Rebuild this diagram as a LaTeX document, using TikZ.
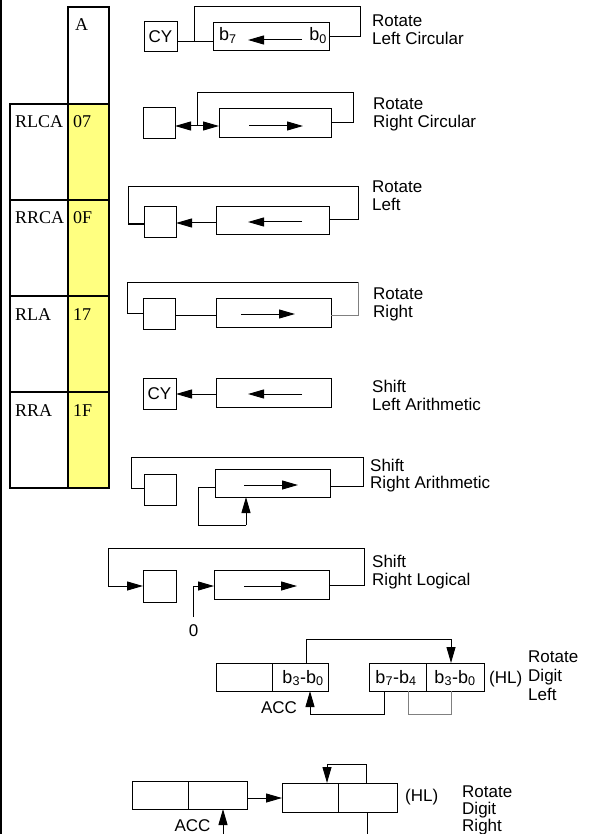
\documentclass[tikz,border=0pt]{standalone}
\usepackage{fontspec}
\setmainfont{Liberation Serif}
\setsansfont{Liberation Sans}
\usetikzlibrary{arrows.meta}
\definecolor{yel}{RGB}{255,255,128}
\begin{document}
\begin{tikzpicture}[x=1pt,y=-1pt,
  box/.style={draw, line width=1pt, inner sep=0pt, outer sep=0pt, font=\sffamily\fontsize{17}{18}\selectfont},
  cell/.style={draw, line width=1.4pt, inner sep=0pt, outer sep=0pt},
  lab/.style={font=\sffamily\fontsize{17}{18}\selectfont, inner sep=0pt, anchor=base west},
  blab/.style={font=\sffamily\fontsize{18}{18}\selectfont, inner sep=0pt, anchor=base west},
  tlab/.style={font=\fontsize{18}{20}\selectfont, inner sep=0pt, anchor=base west},
  wire/.style={line width=1pt},
  gwire/.style={line width=1pt, draw=gray},
  arr/.style={line width=1pt, -{Triangle[length=16pt,width=9pt]}}]
\useasboundingbox (0,0) rectangle (590,834);
\fill[white] (0,0) rectangle (590,834);
% left rule
\draw[line width=1.5pt] (0.75,0) -- (0.75,834);
% table
\node[cell, fill=white, minimum width=41pt, minimum height=97pt] (cA) at (88.5,55.5) {};
\node[cell, fill=yel, minimum width=41pt, minimum height=96pt] (y1) at (88.5,152) {};
\node[cell, fill=yel, minimum width=41pt, minimum height=96pt] (y2) at (88.5,248) {};
\node[cell, fill=yel, minimum width=41pt, minimum height=96pt] (y3) at (88.5,344) {};
\node[cell, fill=yel, minimum width=41pt, minimum height=96pt] (y4) at (88.5,440) {};
\node[cell, minimum width=58pt, minimum height=96pt] (l1) at (39,152) {};
\node[cell, minimum width=58pt, minimum height=96pt] (l2) at (39,248) {};
\node[cell, minimum width=58pt, minimum height=96pt] (l3) at (39,344) {};
\node[cell, minimum width=58pt, minimum height=96pt] (l4) at (39,440) {};
\node[tlab] (tA) at (75,31) {A};
\node[tlab] (t1) at (15,128) {RLCA};
\node[tlab] (c1) at (73,128) {07};
\node[tlab] (t2) at (15,224) {RRCA};
\node[tlab] (c2) at (73,224) {0F};
\node[tlab] (t3) at (15,320) {RLA};
\node[tlab] (c3) at (73,320) {17};
\node[tlab] (t4) at (15,416) {RRA};
\node[tlab] (c4) at (73,416) {1F};

% Row 1: Rotate Left Circular
\node[box, minimum width=33pt, minimum height=30pt] (cy1) at (160.5,37) {CY};
\node[box, minimum width=116pt, minimum height=28pt] (w1) at (271,37) {};
\node[blab] (b7) at (219,41) {b\textsubscript{7}};
\node[blab, anchor=base east] (b0) at (327,41) {b\textsubscript{0}};
\draw[wire] (w1.east) -- (360,37) -- (360,7) -- (194,7) -- (194,42);
\draw[wire] (cy1.east |- 0,42) -- (w1.west |- 0,42);
\draw[arr] (302,40) -- (248,40);
\node[lab] (r1a) at (372,27) {Rotate};
\node[lab] (r1b) at (372,45) {Left Circular};

% Row 2: Rotate Right Circular
\node[box, minimum width=32pt, minimum height=31pt] (sb2) at (159,123.5) {};
\node[box, minimum width=112pt, minimum height=29pt] (w2) at (275,123.5) {};
\draw[wire] (w2.east |- 0,123) -- (353,123) -- (353,93) -- (197,93) -- (197,126);
\draw[arr] (197,126) -- (sb2.east |- 0,126);
\draw[arr] (197,126) -- (w2.west |- 0,126);
\draw[arr] (249,126) -- (303,126);
\node[lab] (r2a) at (373,110) {Rotate};
\node[lab] (r2b) at (373,128) {Right Circular};

% Row 3: Rotate Left
\node[box, minimum width=32pt, minimum height=30pt] (sb3) at (160,222) {};
\node[box, minimum width=113pt, minimum height=27pt] (w3) at (272.5,220.5) {};
\draw[wire] (w3.east |- 0,220) -- (358,220) -- (358,187) -- (128,187) -- (128,224) -- (sb3.west |- 0,224);
\draw[arr] (w3.west |- 0,223) -- (sb3.east |- 0,223);
\draw[arr] (302,222) -- (248,222);
\node[lab] (r3a) at (372,193) {Rotate};
\node[lab] (r3b) at (372,211) {Left};

% Row 4: Rotate Right
\node[box, minimum width=32pt, minimum height=31pt] (sb4) at (159,313.5) {};
\node[box, minimum width=115pt, minimum height=29pt] (w4) at (273.5,312.5) {};
\draw[gwire] (w4.east |- 0,315) -- (358,315) -- (358,282);
\draw[wire] (358,282) -- (127,282) -- (127,313) -- (sb4.west |- 0,313);
\draw[wire] (sb4.east |- 0,315) -- (w4.west |- 0,315);
\draw[arr] (241,314) -- (295,314);
\node[lab] (r4a) at (373,299) {Rotate};
\node[lab] (r4b) at (373,317) {Right};

% Row 5: Shift Left Arithmetic
\node[box, minimum width=33pt, minimum height=31pt] (cy5) at (159.5,393.5) {CY};
\node[box, minimum width=115pt, minimum height=29pt] (w5) at (273.5,392.5) {};
\draw[arr] (w5.west |- 0,394) -- (cy5.east |- 0,394);
\draw[arr] (302,394) -- (248,394);
\node[lab] (r5a) at (372,392) {Shift};
\node[lab] (r5b) at (372,410) {Left Arithmetic};

% Row 6: Shift Right Arithmetic
\node[box, minimum width=32pt, minimum height=31pt] (sb6) at (160,489.5) {};
\node[box, minimum width=115pt, minimum height=28pt] (w6) at (272.5,483) {};
\draw[wire] (w6.east |- 0,486) -- (363,486) -- (363,457) -- (131,457) -- (131,488) -- (sb6.west |- 0,488);
\draw[wire] (w6.west |- 0,487) -- (198,487) -- (198,525) -- (246,525);
\draw[arr] (246,525) -- (246,0 |- w6.south);
\draw[arr] (244,485) -- (298,485);
\node[lab] (r6a) at (370,471) {Shift};
\node[lab] (r6b) at (370,488) {Right Arithmetic};

% Row 7: Shift Right Logical
\node[box, minimum width=33pt, minimum height=32pt] (sb7) at (159.5,586) {};
\node[box, minimum width=115pt, minimum height=29pt] (w7) at (271.5,584.5) {};
\draw[wire] (w7.east |- 0,585) -- (364,585) -- (364,548) -- (108,548) -- (108,586);
\draw[arr] (108,586) -- (sb7.west |- 0,586);
\node[lab, anchor=base] (z0) at (193.5,636) {0};
\draw[wire] (193,617) -- (193,586);
\draw[arr] (193,586) -- (w7.west |- 0,586);
\draw[arr] (244,586) -- (297,586);
\node[lab] (r7a) at (372,567) {Shift};
\node[lab] (r7b) at (372,585) {Right Logical};

% Row 8: Rotate Digit Left
\node[box, minimum width=56pt, minimum height=28pt] (acc8a) at (244,677) {};
\node[box, minimum width=56pt, minimum height=28pt] (acc8b) at (300,677) {};
\node[box, minimum width=57.5pt, minimum height=28pt] (hl8a) at (397.75,677) {};
\node[box, minimum width=57.5pt, minimum height=28pt] (hl8b) at (455.25,677) {};
\node[blab, anchor=base] (t8a) at (303,683) {b\textsubscript{3}-b\textsubscript{0}};
\node[blab, anchor=base] (t8b) at (396,683) {b\textsubscript{7}-b\textsubscript{4}};
\node[blab, anchor=base] (t8c) at (455,683) {b\textsubscript{3}-b\textsubscript{0}};
\draw[wire] (306,0 |- acc8b.north) -- (306,639) -- (451,639);
\draw[arr] (451,639) -- (451,0 |- hl8b.north);
\draw[wire] (384,0 |- hl8a.south) -- (384,714) -- (310,714);
\draw[arr] (310,714) -- (310,0 |- acc8b.south);
\draw[gwire] (451,0 |- hl8b.south) -- (451,714) -- (408,714) -- (408,0 |- hl8a.south);
\node[lab, anchor=base] (acc8) at (279,713) {ACC};
\node[lab] (hl8) at (489,683) {(HL)};
\node[lab] (r8a) at (528,662) {Rotate};
\node[lab] (r8b) at (528,681) {Digit};
\node[lab] (r8c) at (528,700) {Left};

% Row 9: Rotate Digit Right
\node[box, minimum width=56pt, minimum height=28pt] (acc9a) at (160,795) {};
\node[box, minimum width=59pt, minimum height=28pt] (acc9b) at (217.5,795) {};
\node[box, minimum width=56pt, minimum height=29pt] (hl9a) at (310,797.5) {};
\node[box, minimum width=59pt, minimum height=29pt] (hl9b) at (367.5,797.5) {};
\draw[arr] (acc9b.east |- 0,798) -- (hl9a.west |- 0,798);
\draw[wire] (366,0 |- hl9b.north) -- (366,764) -- (327,764);
\draw[arr] (327,764) -- (327,0 |- hl9a.north);
\draw[arr] (223,834) -- (223,0 |- acc9b.south);
\draw[wire] (367,0 |- hl9b.south) -- (367,834);
\node[lab, anchor=base] (acc9) at (192.5,831) {ACC};
\node[lab] (hl9) at (405,801) {(HL)};
\node[lab] (r9a) at (462,797) {Rotate};
\node[lab] (r9b) at (462,814) {Digit};
\node[lab] (r9c) at (462,831) {Right};
\end{tikzpicture}
\end{document}
